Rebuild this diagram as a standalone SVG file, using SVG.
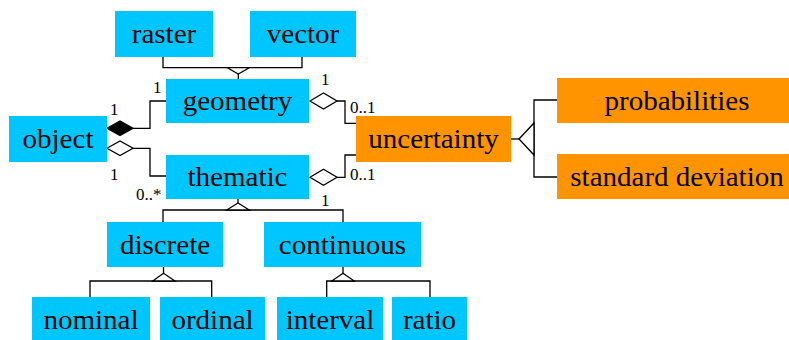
<svg xmlns="http://www.w3.org/2000/svg" width="789" height="340" viewBox="0 0 789 340">
<style>
.c{fill:#00C6FF}
.o{fill:#FF9400}
text{font-family:'Liberation Serif','DejaVu Serif',serif;fill:#000}
.t{font-size:28px;text-anchor:middle}
.l{font-size:16px}
.w{fill:none;stroke:#000;stroke-width:1.3}
.h{fill:#fff;stroke:#000;stroke-width:1.3}
.f{fill:#000;stroke:#000;stroke-width:1.3}
</style>
<rect width="789" height="340" fill="#fff"/>
<g id="connectors">
<polyline class="w" points="163,57 163,67.7 302,67.7 302,57"/>
<polygon class="h" points="227.3,67.7 249.3,67.7 238.3,74"/>
<line class="w" x1="238.3" y1="74" x2="238.3" y2="79"/>
<polyline class="w" points="133,128.3 150,128.3 150,101 166,101"/>
<polygon class="f" points="107,128.3 120,121 133,128.3 120,135.6"/>
<polyline class="w" points="133,148.3 150,148.3 150,176 166,176"/>
<polygon class="h" points="107,148.3 120,141 133,148.3 120,155.6"/>
<polyline class="w" points="337,101 345,101 345,123.3 356,123.3"/>
<polygon class="h" points="310,101 323.5,93 337,101 323.5,109"/>
<polyline class="w" points="337,177.3 345,177.3 345,155 356,155"/>
<polygon class="h" points="310,177.3 323.5,169.3 337,177.3 323.5,185.3"/>
<line class="w" x1="238" y1="199" x2="238" y2="203"/>
<polyline class="w" points="163,222 163,210 343,210 343,222"/>
<polygon class="h" points="226.7,210 249.3,210 238,203"/>
<line class="w" x1="163.5" y1="267" x2="163.5" y2="273.3"/>
<polyline class="w" points="90,297 90,281 211.7,281 211.7,297"/>
<polygon class="h" points="152.7,281 175,281 163.5,273.3"/>
<line class="w" x1="343" y1="267" x2="343" y2="273.3"/>
<polyline class="w" points="326.7,297 326.7,281 430,281 430,297"/>
<polygon class="h" points="331.7,281 354.3,281 343,273.3"/>
<line class="w" x1="511" y1="139" x2="519" y2="139"/>
<polyline class="w" points="557,100 534,100 534,177 557,177"/>
<polygon class="h" points="519,139 534,123 534,155"/>
<text class="l" x="153" y="93" textLength="8.5" lengthAdjust="spacingAndGlyphs">1</text>
<text class="l" x="110" y="115" textLength="8.5" lengthAdjust="spacingAndGlyphs">1</text>
<text class="l" x="110" y="180" textLength="8.5" lengthAdjust="spacingAndGlyphs">1</text>
<text class="l" x="136" y="200" textLength="25.5" lengthAdjust="spacingAndGlyphs">0..*</text>
<text class="l" x="321" y="85" textLength="8.5" lengthAdjust="spacingAndGlyphs">1</text>
<text class="l" x="350" y="113" textLength="25.5" lengthAdjust="spacingAndGlyphs">0..1</text>
<text class="l" x="350" y="180" textLength="25.5" lengthAdjust="spacingAndGlyphs">0..1</text>
<text class="l" x="321" y="206" textLength="8.5" lengthAdjust="spacingAndGlyphs">1</text>
</g>
<g id="raster"><rect class="c" x="115" y="11" width="98" height="46"/><text class="t" x="164" y="43" textLength="64.4" lengthAdjust="spacingAndGlyphs">raster</text></g>
<g id="vector"><rect class="c" x="250" y="11" width="106" height="46"/><text class="t" x="303" y="43" textLength="72.5" lengthAdjust="spacingAndGlyphs">vector</text></g>
<g id="geometry"><rect class="c" x="166" y="79" width="143" height="44"/><text class="t" x="237.5" y="110" textLength="109.5" lengthAdjust="spacingAndGlyphs">geometry</text></g>
<g id="object"><rect class="c" x="9" y="116" width="98" height="46"/><text class="t" x="58" y="148" textLength="70.9" lengthAdjust="spacingAndGlyphs">object</text></g>
<g id="thematic"><rect class="c" x="166" y="155" width="143" height="44"/><text class="t" x="237.5" y="186" textLength="99.9" lengthAdjust="spacingAndGlyphs">thematic</text></g>
<g id="uncertainty"><rect class="o" x="356" y="116" width="155" height="46"/><text class="t" x="433.5" y="148" textLength="130.5" lengthAdjust="spacingAndGlyphs">uncertainty</text></g>
<g id="probabilities"><rect class="o" x="557" y="78" width="240" height="45"/><text class="t" x="677" y="110" textLength="145" lengthAdjust="spacingAndGlyphs">probabilities</text></g>
<g id="standard-deviation"><rect class="o" x="557" y="154" width="240" height="45"/><text class="t" x="677" y="186" textLength="213.4" lengthAdjust="spacingAndGlyphs">standard deviation</text></g>
<g id="discrete"><rect class="c" x="107" y="222" width="116" height="45"/><text class="t" x="165" y="254" textLength="90.2" lengthAdjust="spacingAndGlyphs">discrete</text></g>
<g id="continuous"><rect class="c" x="264" y="222" width="157" height="45"/><text class="t" x="342.5" y="254" textLength="127.3" lengthAdjust="spacingAndGlyphs">continuous</text></g>
<g id="nominal"><rect class="c" x="32" y="297" width="118" height="43"/><text class="t" x="91" y="329" textLength="95.1" lengthAdjust="spacingAndGlyphs">nominal</text></g>
<g id="ordinal"><rect class="c" x="160" y="297" width="105" height="43"/><text class="t" x="212.5" y="329" textLength="82.2" lengthAdjust="spacingAndGlyphs">ordinal</text></g>
<g id="interval"><rect class="c" x="277" y="297" width="106" height="43"/><text class="t" x="330" y="329" textLength="88.6" lengthAdjust="spacingAndGlyphs">interval</text></g>
<g id="ratio"><rect class="c" x="392" y="297" width="75" height="43"/><text class="t" x="429.5" y="329" textLength="53.2" lengthAdjust="spacingAndGlyphs">ratio</text></g>
</svg>
